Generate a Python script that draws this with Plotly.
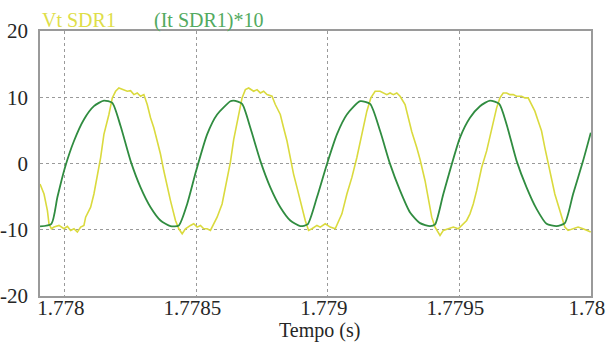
import plotly.graph_objects as go

# ---- data ----
green_t = [1.7779051, 1.7779484, 1.7779711, 1.7780000, 1.7780342, 1.7780721, 1.7781101,
           1.7781481, 1.7781800, 1.7782115, 1.7782495, 1.7782874, 1.7783254, 1.7783634,
           1.7784013, 1.7784329, 1.7784648, 1.7784989, 1.7785407, 1.7785787, 1.7786292,
           1.7786417, 1.7786736, 1.7787051, 1.7787431, 1.7787810, 1.7788190, 1.7788570,
           1.7788950, 1.7789227, 1.7789584, 1.7789963, 1.7790343, 1.7790723, 1.7791228,
           1.7791607, 1.7791987, 1.7792367, 1.7792746, 1.7793126, 1.7793506, 1.7793886,
           1.7794076, 1.7794391, 1.7795025, 1.7795404, 1.7795784, 1.7796164, 1.7796517,
           1.7796798, 1.7797178, 1.7797557, 1.7797937, 1.7798317, 1.7798697, 1.7799012,
           1.7799327, 1.7799707, 1.7800000]
green_v = [-9.5, -9.1, -5.1, -0.6, 3.4, 6.65, 8.65,
           9.5, 9.15, 5.65, 0.4, -3.6, -6.6, -8.6,
           -9.45, -9.35, -6.1, -1.1, 4.4, 7.4, 9.4,
           9.5, 9.0, 5.4, 0.4, -3.6, -6.6, -8.6,
           -9.45, -9.2, -5.1, -0.1, 4.4, 7.4, 9.4,
           9.0, 4.9, -0.1, -4.1, -7.4, -9.0, -9.45,
           -9.2, -4.6, 3.9, 6.9, 8.65, 9.5, 9.0,
           5.9, 0.4, -3.6, -6.85, -9.1, -9.45, -9.0,
           -4.6, 0.4, 4.65]

yellow_t = [1.7779051, 1.7779203, 1.7779332, 1.7779392, 1.7779484, 1.7779582, 1.7779772,
            1.7779962, 1.7780091, 1.7780216, 1.7780342, 1.7780471, 1.7780596, 1.7780721,
            1.7780786, 1.7780976, 1.7781101, 1.7781230, 1.7781356, 1.7781481, 1.7781671,
            1.7781800, 1.7781925, 1.7782050, 1.7782240, 1.7782369, 1.7782495, 1.7782620,
            1.7782749, 1.7782874, 1.7783000, 1.7783129, 1.7783254, 1.7783379, 1.7783508,
            1.7783634, 1.7783759, 1.7783888, 1.7784013, 1.7784203, 1.7784329, 1.7784458,
            1.7784583, 1.7784773, 1.7784898, 1.7785027, 1.7785153, 1.7785278, 1.7785407,
            1.7785532, 1.7785658, 1.7785787, 1.7785976, 1.7786166, 1.7786292, 1.7786417,
            1.7786607, 1.7786736, 1.7786861, 1.7786987, 1.7787176, 1.7787305, 1.7787431,
            1.7787556, 1.7787685, 1.7787875, 1.7788000, 1.7788190, 1.7788315, 1.7788445,
            1.7788570, 1.7788695, 1.7788824, 1.7789014, 1.7789139, 1.7789265, 1.7789394,
            1.7789584, 1.7789709, 1.7789899, 1.7790089, 1.7790279, 1.7790404, 1.7790533,
            1.7790723, 1.7790913, 1.7791102, 1.7791292, 1.7791482, 1.7791634, 1.7791797,
            1.7791987, 1.7792113, 1.7792242, 1.7792367, 1.7792492, 1.7792621, 1.7792746,
            1.7792936, 1.7793062, 1.7793191, 1.7793380, 1.7793506, 1.7793696, 1.7793821,
            1.7793950, 1.7794076, 1.7794266, 1.7794391, 1.7794581, 1.7794771, 1.7794960,
            1.7795089, 1.7795279, 1.7795404, 1.7795530, 1.7795659, 1.7795849, 1.7796039,
            1.7796229, 1.7796418, 1.7796544, 1.7796669, 1.7796798, 1.7796923, 1.7797049,
            1.7797178, 1.7797368, 1.7797493, 1.7797618, 1.7797747, 1.7797873, 1.7797998,
            1.7798127, 1.7798252, 1.7798442, 1.7798632, 1.7798822, 1.7799012, 1.7799137,
            1.7799327, 1.7799517, 1.7799707, 1.7799897, 1.7800000]
yellow_v = [-3.1, -4.6, -7.1, -9.1, -9.85, -9.6, -9.35,
            -9.85, -9.5, -10.1, -9.85, -10.35, -9.6, -9.35,
            -8.1, -6.6, -4.6, -2.1, 0.9, 4.4, 7.4,
            9.9, 10.9, 11.4, 11.15, 10.9, 11.0, 10.4,
            10.65, 10.15, 10.4, 8.9, 6.9, 5.4, 3.4,
            1.4, -1.1, -3.6, -5.6, -8.6, -9.85, -10.6,
            -9.85, -9.35, -9.1, -9.6, -9.35, -9.85, -9.85,
            -10.1, -9.1, -8.1, -6.1, -2.6, 0.2, 3.6,
            7.6, 9.9, 11.15, 11.4, 10.9, 11.15, 10.65,
            10.9, 10.4, 10.15, 8.9, 7.4, 5.4, 3.4,
            0.9, -1.6, -3.6, -6.6, -8.6, -10.1, -9.85,
            -9.35, -9.6, -9.1, -9.6, -9.85, -8.6, -7.6,
            -4.6, -2.1, 0.9, 4.4, 7.9, 9.9, 10.9,
            10.9, 10.65, 10.4, 10.65, 10.4, 10.65, 10.15,
            8.9, 6.9, 4.8, 2.4, 0.6, -2.6, -5.6,
            -8.1, -9.6, -10.85, -10.1, -9.85, -9.6, -9.85,
            -9.35, -8.6, -7.6, -6.1, -4.1, -0.6, 1.9,
            5.4, 8.4, 9.9, 10.65, 10.65, 10.4, 10.4,
            10.15, 10.15, 9.9, 9.9, 8.9, 7.9, 6.4,
            4.9, 2.4, -1.1, -4.6, -7.1, -9.6, -10.1,
            -9.85, -9.6, -9.85, -10.1, -10.35]

x_ticks = [1.778, 1.7785, 1.779, 1.7795, 1.78]
x_tick_labels = ["1.778", "1.7785", "1.779", "1.7795", "1.78"]
y_ticks = [-20, -10, 0, 10, 20]
y_tick_labels = ["-20", "-10", "0", "10", "20"]
series_names = ["Vt SDR1", "(It SDR1)*10"]
x_title = "Tempo (s)"

YELLOW = "rgb(218,218,62)"
GREEN = "rgb(48,140,64)"
FONT = "Liberation Serif"
TXT = "#262626"

fig = go.Figure()
fig.add_trace(go.Scatter(x=yellow_t, y=yellow_v, mode="lines", name=series_names[0],
                         line=dict(color=YELLOW, width=1.6)))
fig.add_trace(go.Scatter(x=green_t, y=green_v, mode="lines", name=series_names[1],
                         line=dict(color=GREEN, width=1.8, shape="spline", smoothing=0.6)))

axis_common = dict(showline=True, linecolor="#9a9a9a", linewidth=1.5, mirror=True,
                   showgrid=True, gridcolor="#9a9a9a", griddash="dot", gridwidth=1,
                   zeroline=False, ticks="", ticklen=0, automargin=False,
                   ticklabeloverflow="allow",
                   tickfont=dict(family=FONT, size=21, color=TXT))

fig.update_layout(
    width=607, height=343,
    margin=dict(l=40, r=16, t=31, b=47),
    paper_bgcolor="white", plot_bgcolor="white",
    showlegend=False,
    xaxis=dict(range=[1.777905, 1.7800008], tickvals=x_ticks, ticktext=x_tick_labels,
               ticklabelstandoff=-8, ticklabelshift=-4, **axis_common),
    yaxis=dict(range=[-20, 20], tickvals=y_ticks, ticktext=y_tick_labels,
               ticklabelstandoff=6, **axis_common),
    annotations=[
        dict(text=series_names[0], xref="paper", yref="paper", x=0.0, y=1.0, yshift=11,
             xanchor="left", yanchor="middle", showarrow=False,
             font=dict(family=FONT, size=20, color="rgb(222,222,72)")),
        dict(text=series_names[1], xref="paper", yref="paper", x=0.203, y=1.0, yshift=11,
             xanchor="left", yanchor="middle", showarrow=False,
             font=dict(family=FONT, size=20, color="rgb(82,170,96)")),
        dict(text=x_title, xref="paper", yref="paper", x=0.5, y=0.0, xshift=4, yshift=-34,
             xanchor="center", yanchor="middle", showarrow=False,
             font=dict(family=FONT, size=20, color=TXT)),
    ],
)

fig.write_html("out.html", config={"displayModeBar": False},
               post_script="document.body.style.margin='0';")
